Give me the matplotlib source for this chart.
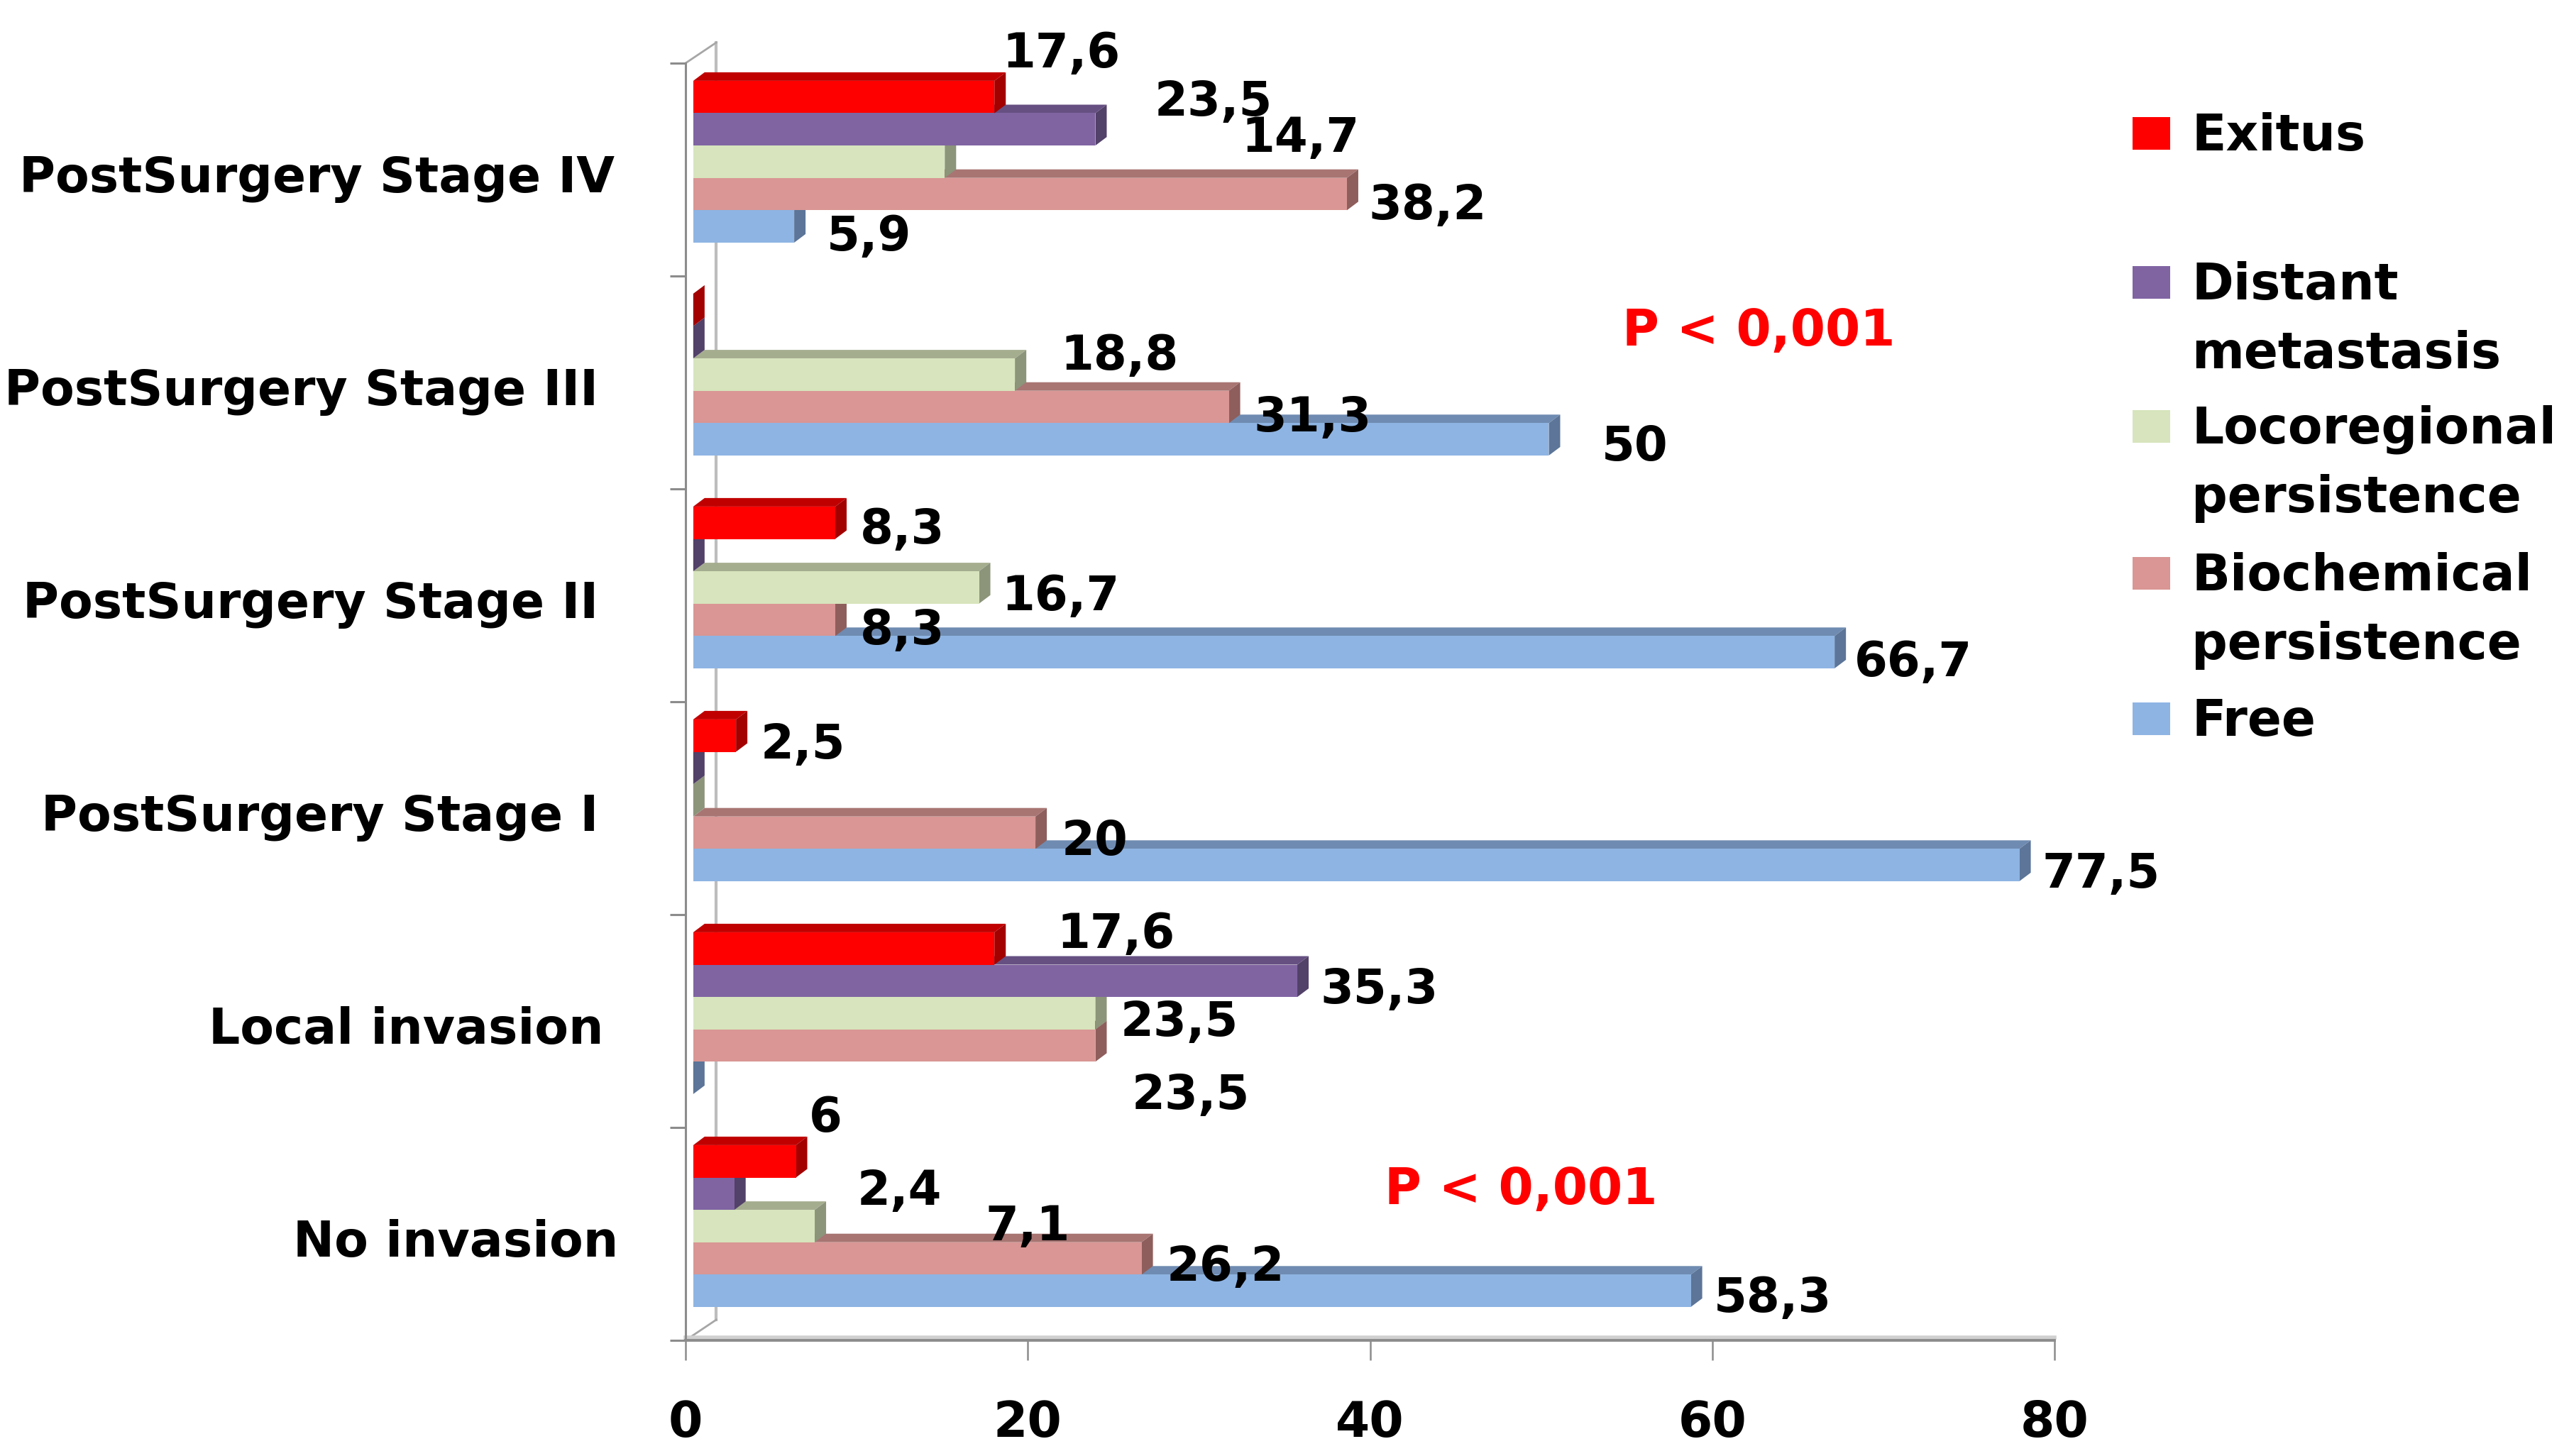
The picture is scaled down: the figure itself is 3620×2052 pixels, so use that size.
import matplotlib
matplotlib.use("Agg")
import matplotlib.pyplot as plt
from matplotlib.patches import Polygon, Rectangle
from matplotlib.transforms import ScaledTranslation

# ---------------- data ----------------
categories = ["No invasion", "Local invasion", "PostSurgery Stage I",
              "PostSurgery Stage II", "PostSurgery Stage III", "PostSurgery Stage IV"]
series_names = ["Exitus", "Distant metastasis", "Locoregional persistence",
                "Biochemical persistence", "Free"]
exitus = [6, 17.6, 2.5, 8.3, 0, 17.6]
distant = [2.4, 35.3, 0, 0, 0, 23.5]
locoregional = [7.1, 23.5, 0, 16.7, 18.8, 14.7]
biochemical = [26.2, 23.5, 20, 8.3, 31.3, 38.2]
free = [58.3, 0, 77.5, 66.7, 50, 5.9]
series_values = [exitus, distant, locoregional, biochemical, free]
x_ticks = [0, 20, 40, 60, 80]
p_text = "P < 0,001"

# ---------------- styles ----------------
front_colors = ["#FF0000", "#8064A2", "#D7E4BD", "#D99694", "#8EB4E3"]
top_colors = ["#C00000", "#665082", "#A5AD8F", "#A87573", "#6F8BB1"]
side_colors = ["#A30000", "#524168", "#8C947A", "#8E5E5C", "#5C7598"]

# label offsets (dx, dy) in reference pixels relative to bar end / bar centre
label_offsets = [
    [(8, -29), (38, -11), (15, 3), (15, 2), (0, 0), (5, -29)],
    [(75, -4), (14, 3), (0, 0), (0, 0), (0, 0), (36, -19)],
    [(104, -2), (15, 3), (0, 0), (14, 3), (28, -14), (181, -17)],
    [(15, 3), (22, 28), (16, 3), (15, 4), (15, 4), (13, 4.5)],
    [(14, 2), (0, 0), (14, 3), (12, 4), (32, 2), (20, 4)],
]
# per-category label right-edge shift (reference px), tick label style
cat_label_shift = [7, -2, -5, -5, -5, 5]

W, H = 3620, 2052
PX2PT = 2.309 / 1.389
BAR_H = 0.152
GROUP_SHIFT = 0.037
BASE = 0.45
DX = 16 / 24.11
DY = 12 / 300.0
WALL_DX = 1.8
WALL_DY = 0.097
GREY = "#8C8C8C"

fig = plt.figure(figsize=(W / 100, H / 100), dpi=100)
ax = fig.add_axes([966 / W, (H - 1889) / H, (2895 - 966) / W, (1889 - 89) / H])
ax.set_xlim(0, 80)
ax.set_ylim(-0.5, 5.5)

# back wall & 3D frame
ax.plot([WALL_DX, WALL_DX], [-0.5 + WALL_DY, 5.5 + WALL_DY], color="#BDBDBD",
        lw=3, zorder=1, clip_on=False)
ax.plot([0, WALL_DX], [5.5, 5.5 + WALL_DY], color="#A6A6A6", lw=2, zorder=1, clip_on=False)
ax.plot([0, WALL_DX], [-0.5, -0.5 + WALL_DY], color="#A6A6A6", lw=2, zorder=1, clip_on=False)
ax.plot([0, 80], [-0.5 + 0.012, -0.5 + 0.012], color="#D0D0D0", lw=4, zorder=2, clip_on=False)

n_cat = len(categories)
for k in range(len(series_names) - 1, -1, -1):
    vals = series_values[k]
    ys = [i + GROUP_SHIFT + (2 - k) * BAR_H for i in range(n_cat)]
    z = 20 - 2 * k
    ax.barh(ys, vals, height=BAR_H, left=BASE, color=front_colors[k],
            linewidth=0, zorder=z)
    for i in range(n_cat):
        v = vals[i]
        y = ys[i]
        yb, yt = y - BAR_H / 2, y + BAR_H / 2
        x0, x1 = BASE, BASE + v
        if v > 0:
            ax.add_patch(Polygon([(x0, yt), (x1, yt), (x1 + DX, yt + DY), (x0 + DX, yt + DY)],
                                 closed=True, facecolor=top_colors[k], linewidth=0,
                                 zorder=z - 0.5))
        ax.add_patch(Polygon([(x1, yb), (x1, yt), (x1 + DX, yt + DY), (x1 + DX, yb + DY)],
                             closed=True, facecolor=side_colors[k], linewidth=0,
                             zorder=z - 0.5))
        if v > 0:
            dx, dy = label_offsets[k][i]
            ax.annotate(f"{v:g}".replace(".", ","), xy=(x1, y),
                        xytext=(dx * PX2PT, -dy * PX2PT - 18),
                        textcoords="offset points", ha="left", va="baseline",
                        fontsize=48.5, fontweight="bold", color="black", zorder=40)

# p-values
ax.text(54.75, 4.173, p_text, color="#FF0000", fontsize=51, fontweight="bold",
        ha="left", va="baseline", zorder=40)
ax.text(40.86, 0.14, p_text, color="#FF0000", fontsize=51, fontweight="bold",
        ha="left", va="baseline", zorder=40)

# axes styling
for s in ["top", "right"]:
    ax.spines[s].set_visible(False)
ax.spines["left"].set_color(GREY)
ax.spines["left"].set_linewidth(2.2)
ax.spines["bottom"].set_color(GREY)
ax.spines["bottom"].set_linewidth(2.8)

ax.set_xticks(x_ticks)
ax.set_xticklabels([str(t) for t in x_ticks], fontsize=50, fontweight="bold")
ax.tick_params(axis="x", direction="out", length=20, width=1.8, color=GREY, pad=40)

ax.set_yticks(range(n_cat))
ax.set_yticklabels(categories, fontsize=50, fontweight="bold")
ax.set_yticks([i - 0.5 for i in range(n_cat + 1)], minor=True)
ax.tick_params(axis="y", which="major", length=0, pad=80)
ax.tick_params(axis="y", which="minor", length=16, width=2.2, color=GREY)
for lbl, sh in zip(ax.get_yticklabels(), cat_label_shift):
    lbl.set_transform(lbl.get_transform() +
                      ScaledTranslation(sh * 2.309 / 100, -6 / 100, fig.dpi_scale_trans))

# legend (manual)
sq_x, sq_w, sq_h = 3005, 53, 46
txt_x = 3088
first_baselines = [212, 422, 625, 832, 1037]
for k, name in enumerate(series_names):
    b = first_baselines[k]
    cy = b - 24
    fig.patches.append(Rectangle((sq_x / W, 1 - (cy + sq_h / 2) / H), sq_w / W, sq_h / H,
                                 transform=fig.transFigure, facecolor=front_colors[k],
                                 linewidth=0))
    for j, line in enumerate(name.split(" ", 1)):
        fig.text(txt_x / W, 1 - (b + j * 97) / H, line, fontsize=51, fontweight="bold",
                 ha="left", va="baseline")

fig.savefig("out.png", dpi=100, facecolor="white")
